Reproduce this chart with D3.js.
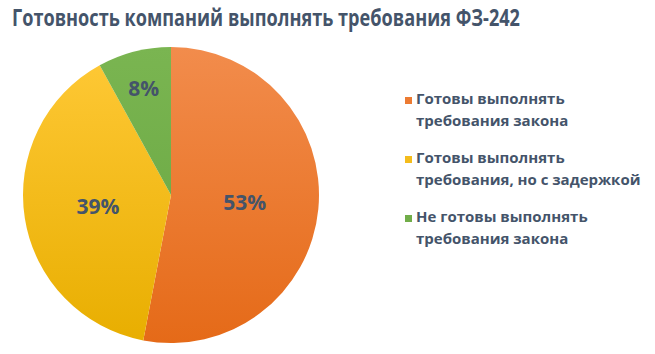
<!DOCTYPE html>
<html>
<head>
<meta charset="utf-8">
<script src="https://cdn.jsdelivr.net/npm/d3@7"></script>
<style>
  body { margin: 0; background: #fff; }
  text { font-family: "Open Sans", sans-serif; font-weight: bold; fill: #44546A; }
</style>
</head>
<body>
<script>
// Data ///////////////////////////////////////////////////////////
const title = "Готовность компаний выполнять требования ФЗ-242";
const categories = [
  ["Готовы выполнять", "требования закона"],
  ["Готовы выполнять", "требования, но с задержкой"],
  ["Не готовы выполнять", "требования закона"]
];
const values = [53, 39, 8];
const colorsTop = ["#F28C4C", "#FFC937", "#7AB551"];
const colorsBottom = ["#E56A18", "#E8AE00", "#67A540"];

// Setup //////////////////////////////////////////////////////////
const width = 655, height = 354;
const cx = 171, cy = 195, r = 148;

const svg = d3.select("body").append("svg")
  .attr("width", width)
  .attr("height", height);

// vertical gradient for each slice (in the pie group's coordinates)
const defs = svg.append("defs");
values.forEach(function(v, i) {
  const grad = defs.append("linearGradient")
    .attr("id", "grad" + i)
    .attr("gradientUnits", "userSpaceOnUse")
    .attr("x1", 0).attr("y1", -r)
    .attr("x2", 0).attr("y2", r);
  grad.append("stop").attr("offset", "0%").attr("stop-color", colorsTop[i]);
  grad.append("stop").attr("offset", "100%").attr("stop-color", colorsBottom[i]);
});

// Title
svg.append("text")
  .attr("x", 12)
  .attr("y", 26)
  .attr("font-size", 23)
  .attr("textLength", 508)
  .attr("lengthAdjust", "spacingAndGlyphs")
  .text(title);

// Pie
const pie = d3.pie().sort(null).value(d => d);
const arc = d3.arc().innerRadius(0).outerRadius(r);

const g = svg.append("g").attr("transform", "translate(" + cx + "," + cy + ")");
const arcs = pie(values);

g.selectAll("path.slice")
  .data(arcs)
  .enter().append("path")
  .attr("class", "slice")
  .attr("d", arc)
  .attr("fill", (d, i) => "url(#grad" + i + ")");

// small slices get their label pushed outwards
function labelPos(d) {
  const k = (d.endAngle - d.startAngle) < 0.6 ? 0.745 : 0.5;
  return d3.arc().innerRadius(r * k).outerRadius(r * k).centroid(d);
}

g.selectAll("text.pct")
  .data(arcs)
  .enter().append("text")
  .attr("class", "pct")
  .attr("x", d => labelPos(d)[0])
  .attr("y", d => labelPos(d)[1])
  .attr("dy", "0.36em")
  .attr("text-anchor", "middle")
  .attr("font-size", 21)
  .text(d => d.value + "%");

// Legend
const legend = svg.append("g").attr("transform", "translate(405,0)");
const itemY = [104, 163, 222];

categories.forEach(function(lines, i) {
  const item = legend.append("g").attr("transform", "translate(0," + itemY[i] + ")");
  item.append("rect")
    .attr("x", 0).attr("y", -7)
    .attr("width", 7).attr("height", 7)
    .attr("fill", d3.interpolateRgb(colorsTop[i], colorsBottom[i])(0.5));
  lines.forEach(function(line, j) {
    item.append("text")
      .attr("x", 11)
      .attr("y", j * 22)
      .attr("font-size", 15)
      .text(line);
  });
});
</script>
</body>
</html>
